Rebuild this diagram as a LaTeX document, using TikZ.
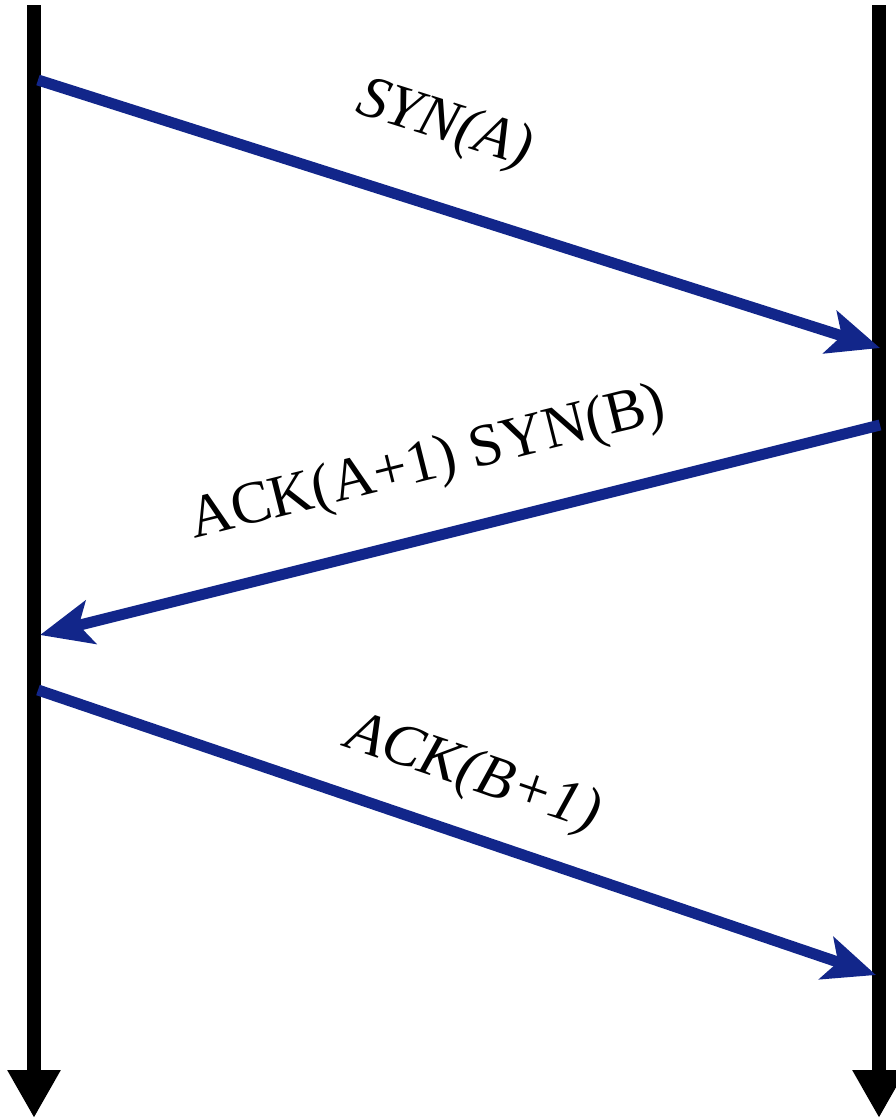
\documentclass[tikz,border=0pt]{standalone}
\usepackage{fontspec}
\setmainfont{Liberation Serif}
\usepackage{xcolor}
\definecolor{msgblue}{HTML}{12268A}
\definecolor{lifeblack}{HTML}{000000}
\usetikzlibrary{arrows.meta,positioning}
\tikzset{
  timeline/.style={
    line width=14pt, draw=lifeblack,
    -{Triangle[length=48pt,width=50pt]}
  },
  msgarrow/.style={
    line width=11pt, draw=msgblue,
    -{Stealth[length=52pt,width=44pt,inset=12pt]}
  },
  msglabel/.style={
    font=\fontsize{60}{72}\selectfont, inner sep=0pt, text=black
  }
}

\begin{document}
\begin{tikzpicture}[x=1pt,y=-1pt]
  \useasboundingbox (0,0) rectangle (895,1120);

  % endpoints of the two time lines
  \coordinate (atop) at (34,5);
  \coordinate (abot) at (34,1118);
  \coordinate (btop) at (879,5);
  \coordinate (bbot) at (879,1118);

  % message end points
  \coordinate (syna) at (38,80);
  \coordinate (synb) at (880,348);
  \coordinate (acka) at (880,425);
  \coordinate (ackb) at (40,635);
  \coordinate (fina) at (38,690);
  \coordinate (finb) at (876,975);

  \draw[timeline] (atop) -- (abot);
  \draw[timeline] (btop) -- (bbot);

  \draw[msgarrow] (syna) -- node[msglabel, pos=0.454, sloped, above=47pt] (lblsyn) {\itshape SYN(A)} (synb);
  \draw[msgarrow] (acka) -- node[msglabel, pos=0.518, sloped, above=38pt] (lblack) {ACK(A+1) SYN(B)} (ackb);
  \draw[msgarrow] (fina) -- node[msglabel, pos=0.496, sloped, above=27pt] (lblfin) {\itshape ACK(B+1)} (finb);
\end{tikzpicture}
\end{document}
